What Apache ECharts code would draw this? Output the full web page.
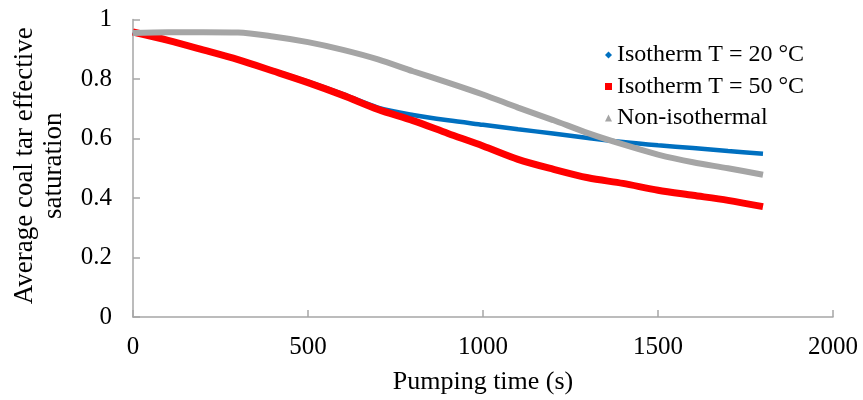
<!DOCTYPE html>
<html>
<head>
<meta charset="utf-8">
<script src="https://cdn.jsdelivr.net/npm/echarts@6/dist/echarts.min.js"></script>
<style>html,body{margin:0;padding:0;background:#fff}#c{width:863px;height:400px}</style>
</head>
<body>
<div id="c"></div>
<script>
var times = [0,100,200,300,400,500,600,700,800,900,1000,1100,1200,1300,1400,1500,1600,1700,1800];
var iso20 = [0.958,0.930,0.898,0.865,0.829,0.791,0.749,0.704,0.679,0.661,0.646,0.631,0.617,0.602,0.588,0.577,0.568,0.558,0.549];
var iso50 = [0.958,0.930,0.898,0.865,0.827,0.788,0.745,0.698,0.660,0.617,0.575,0.530,0.497,0.468,0.449,0.426,0.409,0.392,0.371];
var nonIso = [0.955,0.957,0.957,0.956,0.943,0.924,0.898,0.866,0.826,0.788,0.748,0.704,0.662,0.618,0.580,0.546,0.520,0.500,0.478];
var xTicks = [0,500,1000,1500,2000];
var yTicks = [0,0.2,0.4,0.6,0.8,1];
var names = ['Isotherm T = 20 °C','Isotherm T = 50 °C','Non-isothermal'];

function pairs(v){ return times.map(function(t,i){ return [t, v[i]]; }); }
var font = 'Liberation Serif';
var chart = echarts.init(document.getElementById('c'));
chart.setOption({
  animation:false,
  textStyle:{fontFamily:font},
  grid:{left:133,right:30,top:19.5,bottom:83,containLabel:false,outerBoundsMode:'none'},
  legend:{
    orient:'vertical', left:600, top:38, itemGap:7.5, itemWidth:7, itemHeight:7,
    textStyle:{fontFamily:font,fontSize:24,color:'#000',lineHeight:24},
    data:[{name:names[0],icon:'diamond'},{name:names[1],icon:'rect'},{name:names[2],icon:'triangle'}]
  },
  xAxis:{
    type:'value', min:xTicks[0], max:xTicks[xTicks.length-1], interval:500,
    name:'Pumping time (s)', nameLocation:'middle', nameGap:52,
    nameTextStyle:{fontFamily:font,fontSize:26,color:'#000'},
    axisLine:{show:true,lineStyle:{color:'#A6A6A6',width:1.5}},
    axisTick:{show:true,inside:true,length:7,lineStyle:{color:'#A6A6A6',width:1.5}},
    axisLabel:{fontFamily:font,fontSize:25,color:'#000',margin:18,formatter:function(v){return String(v);}},
    splitLine:{show:false}
  },
  yAxis:{
    type:'value', min:yTicks[0], max:yTicks[yTicks.length-1], interval:0.2,
    name:'Average coal tar effective\nsaturation', nameLocation:'middle', nameGap:65,
    nameTextStyle:{fontFamily:font,fontSize:27,color:'#000',lineHeight:29,padding:[0,0,0,5]},
    axisLine:{show:true,lineStyle:{color:'#A6A6A6',width:1.5}},
    axisTick:{show:true,inside:true,length:7,lineStyle:{color:'#A6A6A6',width:1.5}},
    axisLabel:{fontFamily:font,fontSize:25,color:'#000',margin:21,formatter:function(v){return String(v);}},
    splitLine:{show:false}
  },
  series:[
    {name:names[0],type:'line',data:pairs(iso20),smooth:0.3,showSymbol:false,symbol:'diamond',
     color:'#0070C0',lineStyle:{width:4.5,color:'#0070C0'},itemStyle:{color:'#0070C0'}},
    {name:names[1],type:'line',data:pairs(iso50),smooth:0.3,showSymbol:false,symbol:'rect',
     color:'#FF0000',lineStyle:{width:7,color:'#FF0000'},itemStyle:{color:'#FF0000'}},
    {name:names[2],type:'line',data:pairs(nonIso),smooth:0.3,showSymbol:false,symbol:'triangle',
     color:'#A5A5A5',lineStyle:{width:6,color:'#A5A5A5'},itemStyle:{color:'#A5A5A5'}}
  ]
});
</script>
</body>
</html>
